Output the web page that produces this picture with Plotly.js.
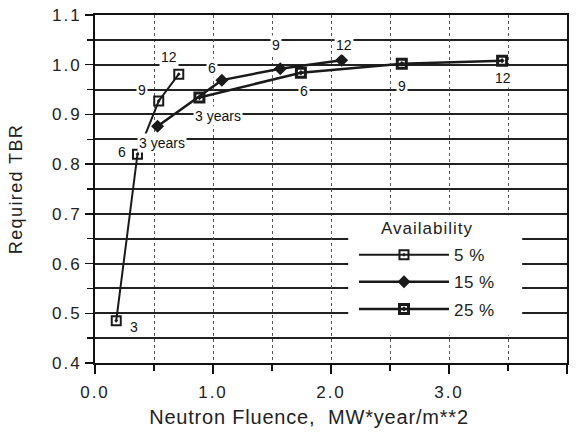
<!DOCTYPE html>
<html><head><meta charset="utf-8">
<script src="https://cdn.plot.ly/plotly-3.0.1.min.js"></script>
<style>
html,body{margin:0;padding:0;background:#fff}
.xtick text, .ytick text {letter-spacing: 2px}
.xtitle {letter-spacing: 0.8px; transform: translateX(-22px)}
.ytitle {letter-spacing: 1.4px}
.legend .legendtext {letter-spacing: 0.5px}
.legend .legendtitletext {letter-spacing: 1px; transform: translate(25px, -3px)}
</style>
</head><body><div id="chart" style="width:578px;height:432px"></div>
<script>
const seriesNames = ["5 %", "15 %", "25 %"];
const years = ["3", "6", "9", "12"];
const fluence5 = [0.18, 0.36, 0.54, 0.71];
const tbr5 = [0.485, 0.82, 0.927, 0.981];
const fluence15 = [0.53, 1.075, 1.57, 2.09];
const tbr15 = [0.876, 0.969, 0.992, 1.009];
const fluence25 = [0.885, 1.745, 2.6, 3.45];
const tbr25 = [0.934, 0.984, 1.002, 1.008];
const xTicks = [0, 1, 2, 3, 4];
const xTickText = ["0.0", "1.0", "2.0", "3.0", "4.0"];
const yTicks = [0.4, 0.5, 0.6, 0.7, 0.8, 0.9, 1.0, 1.1];
const yTickText = ["0.4", "0.5", "0.6", "0.7", "0.8", "0.9", "1.0", "1.1"];
// point labels: [text, x, y]
const labels5 = [["3", 0.33, 0.472], ["6", 0.23, 0.825], ["9", 0.4, 0.95], ["12", 0.63, 1.016]];
const labels15 = [["3 years", 0.57, 0.843], ["6", 0.99, 0.994], ["9", 1.53, 1.04], ["12", 2.11, 1.04]];
const labels25 = [["3 years", 1.04, 0.897], ["6", 1.77, 0.948], ["9", 2.6, 0.958], ["12", 3.46, 0.973]];

const lineColor = "#1a1a1a";
const traces = [
  {x: fluence5, y: tbr5, name: seriesNames[0], legendgroup: "a", mode: "lines+markers",
   line: {color: lineColor, width: 2},
   marker: {symbol: "square-open-dot", size: 9, color: lineColor, line: {width: 2, color: lineColor}}},
  {x: fluence15, y: tbr15, name: seriesNames[1], legendgroup: "b", mode: "lines+markers",
   line: {color: lineColor, width: 2.5},
   marker: {symbol: "diamond", size: 10, color: lineColor}},
  {x: fluence25, y: tbr25, name: seriesNames[2], legendgroup: "c", mode: "lines+markers",
   line: {color: lineColor, width: 2.5},
   marker: {symbol: "square-open-dot", size: 9, color: lineColor, line: {width: 3, color: lineColor}}}
];

const annotations = [];
[labels5, labels15, labels25].forEach(list => list.forEach(l => {
  annotations.push({x: l[1], y: l[2], xref: "x", yref: "y", text: l[0], showarrow: false,
    bgcolor: "#ffffff", font: {family: "Liberation Sans, Arial, sans-serif", size: 14, color: "#111"},
    borderpad: 1});
}));

const font = {family: "Liberation Sans, Arial, Helvetica, sans-serif", size: 17, color: "#222"};
const layout = {
  width: 578, height: 432,
  margin: {l: 95, r: 11, t: 15, b: 69, autoexpand: false},
  paper_bgcolor: "#fff", plot_bgcolor: "#fff",
  font: font,
  showlegend: true,
  legend: {x: 0.5487, y: 0.425, xanchor: "left", yanchor: "top",
    bgcolor: "rgba(0,0,0,0)", borderwidth: 0, traceorder: "grouped",
    title: {text: "Availability", side: "top", font: {size: 17, color: "#222"}},
    font: {size: 17, color: "#222"}, itemwidth: 90, tracegroupgap: 2},
  shapes: [{type: "rect", xref: "x", yref: "y", x0: 2.146, x1: 3.62, y0: 0.456, y1: 0.697,
    fillcolor: "#ffffff", line: {width: 0}, layer: "above"}],
  xaxis: {range: [0, 4], tickvals: xTicks, ticktext: xTickText,
    showline: true, linecolor: "#111", linewidth: 2, mirror: true,
    ticks: "outside", ticklen: 9, tickcolor: "#111", tickwidth: 1.5, ticklabelstandoff: 4,
    showgrid: true, gridcolor: "#555", gridwidth: 1, griddash: "dot",
    minor: {dtick: 0.5, showgrid: true, gridcolor: "#555", gridwidth: 1, griddash: "dot", ticks: "outside", ticklen: 6, tickcolor: "#111"},
    zeroline: false,
    title: {text: "Neutron Fluence,  MW*year/m**2", font: {size: 20, color: "#222"}, standoff: 9}},
  yaxis: {range: [0.4, 1.1], tickvals: yTicks, ticktext: yTickText,
    showline: true, linecolor: "#111", linewidth: 2, mirror: true,
    ticks: "outside", ticklen: 8, tickcolor: "#111", tickwidth: 1.5, ticklabelstandoff: 0,
    showgrid: true, gridcolor: "#222", gridwidth: 2,
    minor: {dtick: 0.05, showgrid: true, gridcolor: "#222", gridwidth: 2, ticks: "outside", ticklen: 6, tickcolor: "#111"},
    zeroline: false,
    title: {text: "Required TBR", font: {size: 18, color: "#222"}, standoff: 25}},
  annotations: annotations
};
Plotly.newPlot("chart", traces, layout, {displayModeBar: false, staticPlot: true});
</script></body></html>
